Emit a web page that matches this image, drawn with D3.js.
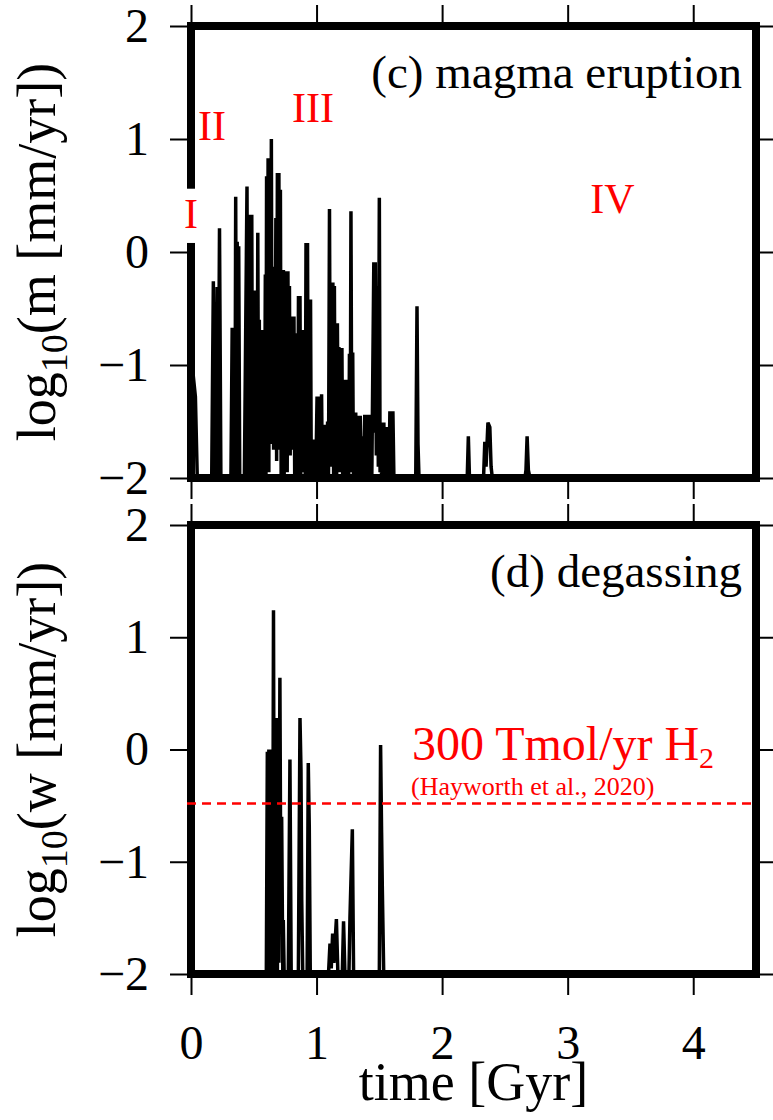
<!DOCTYPE html>
<html>
<head>
<meta charset="utf-8">
<script src="https://cdn.jsdelivr.net/npm/d3@7"></script>
<style>
  html, body { margin: 0; padding: 0; background: #fff; }
  svg { display: block; }
</style>
</head>
<body>
<svg id="chart" width="773" height="1120"></svg>
<script>
// Tick values
const timeTicks = [0, 1, 2, 3, 4];
const logTicks = [-2, -1, 0, 1, 2];

// (c) magma eruption rate: [time (Gyr), log10(m [mm/yr])]
const eruptionPoints = [
  [0.000, -0.90], [0.035, -1.28], [0.050, -2.00],
  [0.165, -2.00], [0.178, -0.26], [0.190, -2.00], [0.200, -2.00], [0.208, -0.31],
  [0.216, -2.00], [0.227, 0.21], [0.238, -2.00],
  [0.318, -2.00], [0.328, -0.67], [0.336, -2.00], [0.343, -0.70], [0.350, -2.00],
  [0.356, 0.49], [0.362, -2.00], [0.368, 0.09], [0.374, -2.00], [0.380, 0.05], [0.388, -2.00],
  [0.425, -2.00], [0.446, 0.58], [0.453, -2.00], [0.460, -0.80], [0.466, -2.00],
  [0.472, 0.33], [0.478, -1.95], [0.484, 0.33], [0.490, -2.00], [0.496, -0.34],
  [0.502, -1.90], [0.508, -0.34], [0.514, -2.00], [0.520, -0.50], [0.526, -2.00],
  [0.532, 0.17], [0.538, -1.90], [0.544, -0.60], [0.550, -2.00], [0.556, -0.69],
  [0.562, -1.95], [0.568, -0.69], [0.574, -2.00], [0.580, -0.75], [0.586, -1.90],
  [0.592, -0.20], [0.597, -2.00], [0.602, 0.67], [0.608, -1.80], [0.614, 0.83],
  [0.620, -1.95], [0.626, 0.83], [0.633, -1.70], [0.640, 1.00], [0.646, -1.65],
  [0.652, -0.13], [0.658, -1.75], [0.664, -0.13], [0.670, -1.60], [0.676, 0.30],
  [0.682, -1.85], [0.688, 0.70], [0.694, -1.70], [0.700, 0.70], [0.706, -1.75],
  [0.712, 0.55], [0.718, -2.00], [0.724, -0.16], [0.730, -1.90], [0.736, -0.16],
  [0.742, -2.00], [0.748, -0.17], [0.754, -1.13], [0.760, -0.17], [0.766, -1.95],
  [0.772, -0.17], [0.778, -1.75], [0.784, -0.30], [0.790, -1.80], [0.796, -0.57],
  [0.802, -1.70], [0.808, -0.57], [0.814, -1.75], [0.820, -0.57], [0.826, -2.00],
  [0.832, -0.72], [0.838, -1.90], [0.844, -0.72], [0.850, -2.00], [0.856, -0.39],
  [0.862, -1.90], [0.868, -0.39], [0.874, -2.00], [0.880, -0.69], [0.886, -1.80],
  [0.892, -0.69], [0.898, -1.95], [0.904, -0.80], [0.910, -2.00], [0.916, 0.08],
  [0.922, -1.90], [0.928, 0.08], [0.934, -2.00], [0.940, -0.42], [0.946, -1.90],
  [0.952, -0.42], [0.958, -2.00],
  [0.964, -1.66], [0.970, -2.00], [0.976, -1.70], [0.982, -1.95], [0.988, -1.66],
  [0.994, -2.00], [1.004, -1.28], [1.010, -1.90], [1.016, -1.30], [1.022, -2.00],
  [1.028, -1.28], [1.034, -1.85], [1.040, -1.26], [1.046, -2.00], [1.052, -1.53],
  [1.058, -1.95], [1.064, -1.53], [1.070, -2.00], [1.076, -1.55], [1.082, -1.90],
  [1.088, -1.50], [1.095, -2.00], [1.103, 0.38], [1.110, -1.90], [1.118, -0.27],
  [1.124, -1.80], [1.130, -0.27], [1.136, -2.00], [1.142, -0.30], [1.148, -1.85],
  [1.154, -0.63], [1.160, -2.00], [1.166, -0.63], [1.172, -1.70], [1.178, -0.84],
  [1.184, -1.95], [1.190, -0.85], [1.196, -1.80], [1.202, -0.85], [1.208, -2.00],
  [1.214, -1.13], [1.220, -1.90], [1.226, -1.13], [1.232, -2.00], [1.238, -1.13],
  [1.244, -1.85], [1.250, -1.20], [1.256, -2.00], [1.262, -0.90], [1.268, -1.90],
  [1.274, 0.36], [1.281, -1.95], [1.288, -0.89], [1.294, -2.00], [1.300, -1.42],
  [1.306, -1.80], [1.312, -1.42], [1.318, -2.00], [1.324, -1.45], [1.330, -1.85],
  [1.336, -1.45], [1.342, -2.00], [1.348, -1.45], [1.354, -1.80], [1.360, -1.63],
  [1.366, -2.00], [1.372, -1.63], [1.378, -1.90], [1.384, -1.44], [1.390, -2.00],
  [1.396, -1.44], [1.402, -1.85], [1.408, -1.44], [1.414, -2.00], [1.420, -1.44],
  [1.426, -1.90], [1.432, -1.60], [1.440, -2.00], [1.456, -0.09], [1.462, -1.60],
  [1.468, -0.09], [1.476, -1.80], [1.484, -0.30], [1.492, -1.90], [1.500, 0.48],
  [1.506, -1.95], [1.512, -1.51], [1.518, -2.00], [1.524, -1.51], [1.530, -1.85],
  [1.536, -1.51], [1.542, -2.00], [1.548, -1.55], [1.554, -1.90], [1.560, -1.55],
  [1.566, -2.00], [1.572, -1.55], [1.578, -1.90], [1.584, -1.41], [1.590, -2.00],
  [1.596, -1.41], [1.602, -1.80], [1.608, -1.41], [1.616, -2.00],
  [1.790, -2.00], [1.800, -0.48], [1.808, -1.70], [1.816, -2.00],
  [2.200, -2.00], [2.209, -1.63], [2.218, -2.00],
  [2.330, -2.00], [2.340, -1.68], [2.350, -1.90], [2.365, -1.51], [2.380, -1.55],
  [2.390, -1.90], [2.400, -2.00],
  [2.660, -2.00], [2.668, -1.93], [2.677, -1.63], [2.687, -1.93], [2.700, -2.00],
  [4.500, -2.00]
];

// (d) degassing rate: [time (Gyr), log10(w [mm/yr])]
const degassingPoints = [
  [0.000, -2.00], [0.600, -2.00], [0.608, -0.02], [0.614, -2.00], [0.620, 0.00],
  [0.626, -1.90], [0.632, 0.00], [0.638, -2.00], [0.644, -0.10], [0.650, -2.00],
  [0.657, 1.24], [0.664, -2.00], [0.670, 0.28], [0.676, -1.90], [0.682, 0.28],
  [0.688, -2.00], [0.694, 0.20], [0.700, -1.90], [0.708, 0.64], [0.716, -1.52],
  [0.722, -0.60], [0.728, -1.52], [0.731, -2.00], [0.735, -1.52], [0.742, -2.00],
  [0.775, -2.00], [0.788, -0.09], [0.798, -2.00],
  [0.855, -2.00], [0.868, 0.28], [0.876, -0.18], [0.882, -1.35], [0.890, -2.00],
  [0.925, -2.00], [0.934, -0.12], [0.942, -0.69], [0.950, -2.00],
  [1.095, -2.00], [1.107, -1.73], [1.117, -1.95], [1.128, -1.64], [1.138, -1.90],
  [1.158, -1.51], [1.170, -2.00],
  [1.205, -2.00], [1.215, -1.53], [1.226, -2.00],
  [1.258, -2.00], [1.266, -1.50], [1.285, -0.71], [1.295, -2.00],
  [1.500, -2.00], [1.510, 0.04], [1.518, -0.74], [1.524, -1.25], [1.535, -2.00],
  [4.500, -2.00]
];

// Reference H2 flux level (300 Tmol/yr H2) expressed as log10(w)
const hayworthLevel = -0.48;

const SERIF = "'Liberation Serif', 'Times New Roman', Times, serif";
const svg = d3.select("#chart");

const x = d3.scaleLinear().domain([0, 4.5]).range([191, 756]);

const panels = [
  { key: "c", top: 26, bottom: 478, data: eruptionPoints,
    label: "(c) magma eruption", sym: "m", timeLabels: false },
  { key: "d", top: 525, bottom: 974, data: degassingPoints,
    label: "(d) degassing", sym: "w", timeLabels: true }
];

const fmtLog = d => (d < 0 ? "\u2212" + Math.abs(d) : String(d));

function styleAxis(sel, labelled) {
  sel.select(".domain").remove();
  sel.selectAll(".tick line").attr("stroke", "#000").attr("stroke-width", 2);
  if (labelled) {
    sel.selectAll(".tick text")
      .attr("font-family", SERIF).attr("font-size", 48).attr("fill", "#000");
  } else {
    sel.selectAll(".tick text").remove();
  }
}

panels.forEach(p => {
  const y = d3.scaleLinear().domain([-2, 2]).range([p.bottom, p.top]);
  const g = svg.append("g").attr("class", "panel-" + p.key);

  g.append("clipPath").attr("id", "clip-" + p.key)
    .append("rect")
    .attr("x", x.range()[0]).attr("y", p.top)
    .attr("width", x.range()[1] - x.range()[0]).attr("height", p.bottom - p.top);

  // time series
  const line = d3.line()
    .x(d => x(d[0]))
    .y(d => y(d[1]));
  g.append("path")
    .datum(p.data)
    .attr("d", line)
    .attr("fill", "none")
    .attr("stroke", "#000")
    .attr("stroke-width", 3.5)
    .attr("stroke-linejoin", "bevel")
    .attr("clip-path", `url(#clip-${p.key})`);

  // outward ticks on all four sides
  g.append("g").attr("transform", `translate(${x.range()[0]},0)`)
    .call(d3.axisLeft(y).tickValues(logTicks).tickSize(21).tickPadding(21).tickFormat(fmtLog))
    .call(s => styleAxis(s, true));
  g.append("g").attr("transform", `translate(${x.range()[1]},0)`)
    .call(d3.axisRight(y).tickValues(logTicks).tickSize(21))
    .call(s => styleAxis(s, false));
  g.append("g").attr("transform", `translate(0,${p.top})`)
    .call(d3.axisTop(x).tickValues(timeTicks).tickSize(21))
    .call(s => styleAxis(s, false));
  g.append("g").attr("transform", `translate(0,${p.bottom})`)
    .call(d3.axisBottom(x).tickValues(timeTicks).tickSize(21).tickPadding(30).tickFormat(d3.format("d")))
    .call(s => styleAxis(s, p.timeLabels));

  // heavy frame
  g.append("rect")
    .attr("x", x.range()[0]).attr("y", p.top)
    .attr("width", x.range()[1] - x.range()[0]).attr("height", p.bottom - p.top)
    .attr("fill", "none").attr("stroke", "#000").attr("stroke-width", 8);

  // panel title
  g.append("text")
    .attr("x", 742).attr("y", p.top + 62)
    .attr("text-anchor", "end")
    .attr("font-family", SERIF).attr("font-size", 47).attr("fill", "#000")
    .text(p.label);

  // y-axis title with subscript
  const yt = g.append("text")
    .attr("transform", `translate(55,${(p.top + p.bottom) / 2}) rotate(-90)`)
    .attr("text-anchor", "middle")
    .attr("font-family", SERIF).attr("font-size", 54).attr("fill", "#000");
  yt.append("tspan").text("log");
  yt.append("tspan").attr("font-size", 38).attr("dy", 12).text("10");
  yt.append("tspan").attr("dy", -12).text(`(${p.sym} [mm/yr])`);

  p.y = y;
});

// stage markers in panel (c)
const yc = panels[0].y;
const red = "#ff0000";
svg.append("rect")
  .attr("x", x(0) - 11).attr("y", yc(0.56)).attr("width", 22).attr("height", yc(0.08) - yc(0.56))
  .attr("fill", "#fff");
const stage = (label, t, v, anchor) => svg.append("text")
  .attr("x", x(t)).attr("y", yc(v))
  .attr("text-anchor", anchor)
  .attr("font-family", SERIF).attr("font-size", 42).attr("fill", red)
  .text(label);
stage("I", 0, 0.21, "middle");
stage("II", 0.056, 0.99, "start");
stage("III", 0.805, 1.15, "start");
stage("IV", 3.18, 0.345, "start");

// H2 flux reference in panel (d)
const yd = panels[1].y;
svg.append("line")
  .attr("x1", x.range()[0] - 4).attr("x2", x.range()[1])
  .attr("y1", yd(hayworthLevel)).attr("y2", yd(hayworthLevel))
  .attr("stroke", red).attr("stroke-width", 2.5).attr("stroke-dasharray", "9,6");
const h2 = svg.append("text")
  .attr("x", 412).attr("y", 760)
  .attr("font-family", SERIF).attr("font-size", 48).attr("fill", red);
h2.append("tspan").text("300 Tmol/yr H");
h2.append("tspan").attr("font-size", 30).attr("dy", 8).text("2");
svg.append("text")
  .attr("x", 411).attr("y", 795)
  .attr("font-family", SERIF).attr("font-size", 26).attr("fill", red)
  .text("(Hayworth et al., 2020)");

// shared time axis title
svg.append("text")
  .attr("x", (x.range()[0] + x.range()[1]) / 2).attr("y", 1100)
  .attr("text-anchor", "middle")
  .attr("font-family", SERIF).attr("font-size", 54).attr("fill", "#000")
  .text("time [Gyr]");
</script>
</body>
</html>
